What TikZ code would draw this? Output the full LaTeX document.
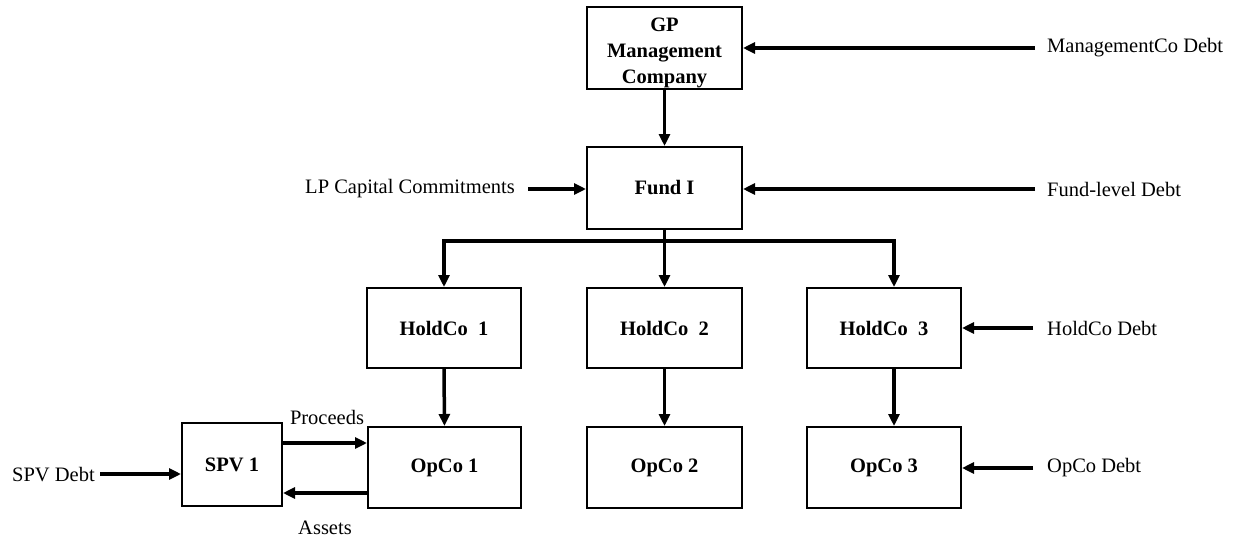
\documentclass[tikz,border=0pt]{standalone}
\usepackage{fontspec}
\setmainfont{Liberation Serif}
\usetikzlibrary{arrows.meta,calc}
\tikzset{
  box/.style={draw=black, line width=2pt, fill=white, inner sep=0pt, align=center,
    font=\fontsize{20.5}{26}\selectfont\bfseries},
  lbl/.style={inner sep=0pt, font=\fontsize{20.5}{26}\selectfont},
  arr/.style={line width=3.5pt, -{Triangle[length=12pt,width=11pt]}},
  bar/.style={line width=3.5pt, line cap=butt}
}
\begin{document}
\begin{tikzpicture}[x=1pt,y=-1pt]
\useasboundingbox (0,0) rectangle (1239,538);
% boxes
\node[box, minimum width=155pt, minimum height=82pt] (gp) at (664.5,48) {\rule{0pt}{23pt}GP\\Management\\Company};
\node[box, minimum width=155pt, minimum height=82pt] (fund) at (664.5,188) {Fund I};
\node[box, minimum width=154pt, minimum height=80pt] (hc1) at (444,328) {HoldCo\ \ 1};
\node[box, minimum width=155pt, minimum height=80pt] (hc2) at (664.5,328) {HoldCo\ \ 2};
\node[box, minimum width=154pt, minimum height=80pt] (hc3) at (884,328) {HoldCo\ \ 3};
\node[box, minimum width=153pt, minimum height=81pt] (op1) at (444.5,467.5) {OpCo\ 1};
\node[box, minimum width=155pt, minimum height=81pt] (op2) at (664.5,467.5) {OpCo\ 2};
\node[box, minimum width=154pt, minimum height=81pt] (op3) at (884,467.5) {OpCo\ 3};
\node[box, minimum width=100pt, minimum height=83pt] (spv) at (232,464.5) {SPV 1};
% labels
\node[lbl, anchor=west] (mdebt) at (1047,48) {ManagementCo Debt};
\node[lbl, anchor=west] (fdebt) at (1047,189) {Fund-level Debt};
\node[lbl, anchor=east] (lp) at (515,189) {LP Capital Commitments};
\node[lbl, anchor=west] (hdebt) at (1047,328) {HoldCo Debt};
\node[lbl, anchor=west] (odebt) at (1047,468) {OpCo Debt};
\node[lbl, anchor=west] (sdebt) at (12,475) {SPV Debt};
\node[lbl] (proc) at (327,417) {Proceeds};
\node[lbl] (assets) at (325,528) {Assets};
% coordinates
\coordinate (m0) at (1035,48);
\coordinate (f0) at (1035,189);
\coordinate (l0) at (528,189);
\coordinate (h0) at (1033,328);
\coordinate (o0) at (1033,468);
\coordinate (s0) at (100,474);
\coordinate (barL) at (444,241);
\coordinate (barM) at (664.5,241);
\coordinate (barR) at (894,241);
\coordinate (p0) at (282,443);
\coordinate (a0) at (368,493);
% connectors
\draw[arr] (m0) -- (m0 -| gp.east);
\draw[arr] (f0) -- (f0 -| fund.east);
\draw[arr] (l0) -- (l0 -| fund.west);
\draw[arr] (h0) -- (h0 -| hc3.east);
\draw[arr] (o0) -- (o0 -| op3.east);
\draw[arr] (s0) -- (s0 -| spv.west);
\draw[arr] (gp.south) -- (fund.north);
\draw[bar] ([xshift=-1.75pt]barL) -- ([xshift=1.75pt]barR);
\draw[bar] (fund.south) -- (barM);
\draw[arr] (barL) -- (barL |- hc1.north);
\draw[arr] (barM) -- (barM |- hc2.north);
\draw[arr] (barR) -- (barR |- hc3.north);
\draw[arr] (hc1.south) -- (op1.north);
\draw[arr] (hc2.south) -- (op2.north);
\draw[arr] (hc3.south -| barR) -- (op3.north -| barR);
\draw[arr] (p0) -- (p0 -| op1.west);
\draw[arr] (a0) -- (a0 -| spv.east);
\end{tikzpicture}
\end{document}
